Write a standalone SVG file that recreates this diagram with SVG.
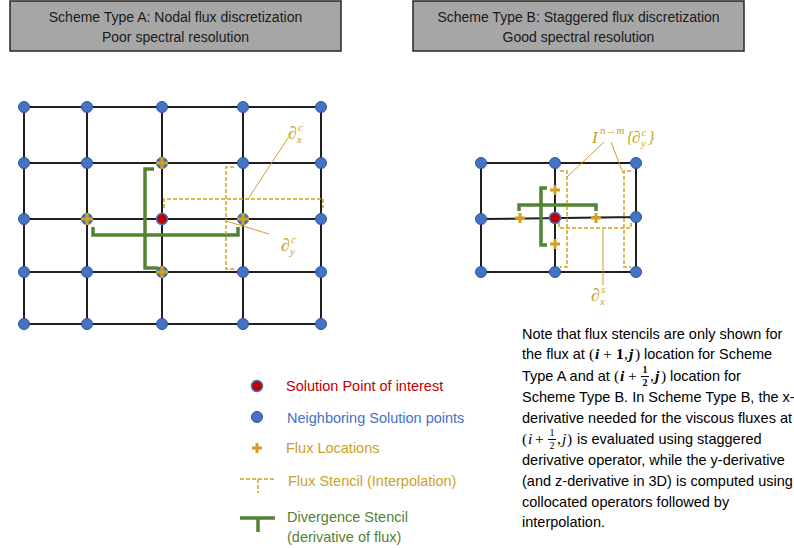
<svg xmlns="http://www.w3.org/2000/svg" xmlns:xlink="http://www.w3.org/1999/xlink" width="794" height="548" viewBox="0 0 794 548">
<style>
.hdr{fill:#a6a6a6;stroke:#262626;stroke-width:1.5}
.ht{font-family:"Liberation Sans",Arial,sans-serif;font-size:14px;fill:#1a1a1a;text-anchor:middle}
.grid{stroke:#1f1f1f;stroke-width:2;fill:none}
.sp{fill:#4472c4;stroke:#2f5597;stroke-width:1}
.red{fill:#c00000;stroke:#4472c4;stroke-width:1.5}
.dash{fill:none;stroke:#d4a020;stroke-width:1.5;stroke-dasharray:4 2}
.div{fill:none;stroke:#548235;stroke-width:3.5}
.lead{stroke:#d4a020;stroke-width:1;fill:none}
.math{font-family:"Liberation Serif","DejaVu Serif",serif;font-style:italic;fill:#c9a227}
.lg{font-family:"Liberation Sans",Arial,sans-serif;font-size:14.5px}
.nt{font-family:"Liberation Sans",Arial,sans-serif;font-size:14.5px;fill:#000}
.nm{font-family:"Liberation Serif","DejaVu Serif",serif;font-size:15.5px;fill:#000}
</style>
<defs>
<g id="plus"><path d="M-6,0H6M0,-6V6" stroke="#d4a020" stroke-width="3.2" fill="none"/></g>
<g id="plusS"><path d="M-5,0H5M0,-5V5" stroke="#d4a020" stroke-width="3" fill="none"/></g>
</defs>

<g id="header-a">
<rect class="hdr" x="10" y="1" width="331" height="50"/>
<text class="ht" x="175.5" y="22">Scheme Type A: Nodal flux discretization</text>
<text class="ht" x="175.5" y="42">Poor spectral resolution</text>
</g>
<g id="header-b">
<rect class="hdr" x="413" y="1" width="331" height="50"/>
<text class="ht" x="578.5" y="22">Scheme Type B: Staggered flux discretization</text>
<text class="ht" x="578.5" y="42">Good spectral resolution</text>
</g>

<g id="grid-a">
<path class="grid" d="M24,107H321M24,163H321M24,219H321M24,272H321M24,324H321M24,107V324M87,107V324M162,107V324M243,107V324M321,107V324"/>
<g>
<circle class="sp" cx="24" cy="107" r="5.5"/><circle class="sp" cx="87" cy="107" r="5.5"/><circle class="sp" cx="162" cy="107" r="5.5"/><circle class="sp" cx="243" cy="107" r="5.5"/><circle class="sp" cx="321" cy="107" r="5.5"/>
<circle class="sp" cx="24" cy="163" r="5.5"/><circle class="sp" cx="87" cy="163" r="5.5"/><circle class="sp" cx="162" cy="163" r="5.5"/><circle class="sp" cx="243" cy="163" r="5.5"/><circle class="sp" cx="321" cy="163" r="5.5"/>
<circle class="sp" cx="24" cy="219" r="5.5"/><circle class="sp" cx="87" cy="219" r="5.5"/><circle class="sp" cx="243" cy="219" r="5.5"/><circle class="sp" cx="321" cy="219" r="5.5"/>
<circle class="sp" cx="24" cy="272" r="5.5"/><circle class="sp" cx="87" cy="272" r="5.5"/><circle class="sp" cx="162" cy="272" r="5.5"/><circle class="sp" cx="243" cy="272" r="5.5"/><circle class="sp" cx="321" cy="272" r="5.5"/>
<circle class="sp" cx="24" cy="324" r="5.5"/><circle class="sp" cx="87" cy="324" r="5.5"/><circle class="sp" cx="162" cy="324" r="5.5"/><circle class="sp" cx="243" cy="324" r="5.5"/><circle class="sp" cx="321" cy="324" r="5.5"/>
</g>
<circle id="a-point" class="red" cx="162" cy="219" r="5.5"/>
<path class="div" d="M154,169H145V268H158"/>
<path class="div" d="M93,227V235H238V227"/>
<path class="dash" d="M234,167H226V269H234"/>
<path class="dash" d="M164,208V199H323V208"/>
<use xlink:href="#plus" x="162" y="163"/>
<use xlink:href="#plus" x="87" y="219"/>
<use xlink:href="#plus" x="243" y="219"/>
<use xlink:href="#plus" x="162" y="272"/>
<text class="math" font-size="18" x="288" y="139">∂</text>
<text class="math" font-size="11" x="298" y="131">c</text>
<text class="math" font-size="11" x="297" y="143">x</text>
<text class="math" font-size="18" x="281" y="251">∂</text>
<text class="math" font-size="11" x="291" y="243">c</text>
<text class="math" font-size="11" x="290" y="255">y</text>
</g>

<g id="grid-b">
<path class="grid" d="M481,163H636M481,219L636,217M481,272H636M481,163V272M555,163V272M636,163V272"/>
<circle class="sp" cx="481" cy="163" r="5.5"/><circle class="sp" cx="555" cy="163" r="5.5"/><circle class="sp" cx="636" cy="163" r="5.5"/>
<circle class="sp" cx="481" cy="219" r="5.5"/><circle class="sp" cx="636" cy="217" r="5.5"/>
<circle class="sp" cx="481" cy="272" r="5.5"/><circle class="sp" cx="555" cy="272" r="5.5"/><circle class="sp" cx="636" cy="272" r="5.5"/>
<circle id="b-point" class="red" cx="555" cy="218" r="5.5"/>
<path class="div" d="M547,188H541V245H547"/>
<path class="div" d="M519,211V205H596V211"/>
<path class="dash" d="M560,171H567V267H560"/>
<path class="dash" d="M631,171H624V267H631"/>
<path class="dash" d="M559,223V228H631V223"/>
<use xlink:href="#plusS" x="555" y="190"/>
<use xlink:href="#plusS" x="555" y="244"/>
<use xlink:href="#plusS" x="520" y="218"/>
<use xlink:href="#plusS" x="596" y="218"/>
<text class="math" font-size="17" x="592" y="143">I</text>
<text class="math" font-size="11" x="600" y="134">n→m</text>
<text class="math" font-size="16" x="627" y="143" font-style="normal">{</text>
<text class="math" font-size="17" x="632" y="143">∂</text>
<text class="math" font-size="10.5" x="641.5" y="136">c</text>
<text class="math" font-size="10.5" x="641" y="147">y</text>
<text class="math" font-size="16" x="648" y="143" font-style="normal">}</text>
<text class="math" font-size="18" x="591" y="301">∂</text>
<text class="math" font-size="11" x="601" y="293">s</text>
<text class="math" font-size="11" x="600" y="305">x</text>
</g>

<g id="connectors">
<path class="lead" d="M248,199L288,138"/>
<path class="lead" d="M226,221L269,234"/>
<path class="lead" d="M604,142L567,177"/>
<path class="lead" d="M611,142L623,173"/>
<path class="lead" d="M603,229V285"/>
</g>

<g id="legend-solution">
<circle class="red" cx="257" cy="386" r="5.5"/>
<text class="lg" x="286" y="391" fill="#c00000">Solution Point of interest</text>
</g>
<g id="legend-neighbor">
<circle class="sp" cx="257" cy="417" r="5.5"/>
<text class="lg" x="287" y="423" fill="#4472c4">Neighboring Solution points</text>
</g>
<g id="legend-flux">
<use xlink:href="#plusS" x="257" y="448"/>
<text class="lg" x="286" y="453" fill="#c9a227">Flux Locations</text>
</g>
<g id="legend-stencil">
<path class="dash" d="M240,479H275M258,479V493"/>
<text class="lg" x="288" y="486" fill="#c9a227">Flux Stencil (Interpolation)</text>
</g>
<g id="legend-divergence">
<path class="div" d="M240,518H275M258,518V532"/>
<text class="lg" x="287" y="522" fill="#548235">Divergence Stencil</text>
<text class="lg" x="287" y="542" fill="#548235">(derivative of flux)</text>
</g>

<g id="note">
<text class="nt" x="522" y="339">Note that flux stencils are only shown for</text>
<text class="nt" x="522" y="359">the flux at</text>
<g class="nm">
<text x="589" y="359">(</text>
<text x="595" y="359" font-weight="bold" font-style="italic">i</text>
<text x="603" y="359">+</text>
<text x="616" y="359" font-weight="bold">1</text>
<text x="624" y="359">,</text>
<text x="629" y="359" font-weight="bold" font-style="italic">j</text>
<text x="635" y="359">)</text>
</g>
<text class="nt" x="644" y="359">location for Scheme</text>
<text class="nt" x="522" y="381">Type A and at</text>
<g class="nm">
<text x="614" y="381">(</text>
<text x="620" y="381" font-weight="bold" font-style="italic">i</text>
<text x="628" y="381">+</text>
<text x="645" y="373" font-size="10" font-weight="bold" text-anchor="middle">1</text>
<path d="M641,376.5H649" stroke="#000" stroke-width="1"/>
<text x="645" y="386" font-size="10" font-weight="bold" text-anchor="middle">2</text>
<text x="650" y="381">,</text>
<text x="655" y="381" font-weight="bold" font-style="italic">j</text>
<text x="661" y="381">)</text>
</g>
<text class="nt" x="670" y="381">location for</text>
<text class="nt" x="522" y="402">Scheme Type B. In Scheme Type B, the x-</text>
<text class="nt" x="522" y="423">derivative needed for the viscous fluxes at</text>
<g class="nm">
<text x="522" y="444">(</text>
<text x="528" y="444" font-style="italic">i</text>
<text x="535" y="444">+</text>
<text x="552" y="436" font-size="10" text-anchor="middle">1</text>
<path d="M548,439.5H556" stroke="#000" stroke-width="1"/>
<text x="552" y="449" font-size="10" text-anchor="middle">2</text>
<text x="557" y="444">,</text>
<text x="562" y="444" font-style="italic">j</text>
<text x="567" y="444">)</text>
</g>
<text class="nt" x="577" y="444">is evaluated using staggered</text>
<text class="nt" x="522" y="465">derivative operator, while the y-derivative</text>
<text class="nt" x="522" y="486">(and z-derivative in 3D) is computed using</text>
<text class="nt" x="522" y="507">collocated operators followed by</text>
<text class="nt" x="522" y="527">interpolation.</text>
</g>
</svg>
